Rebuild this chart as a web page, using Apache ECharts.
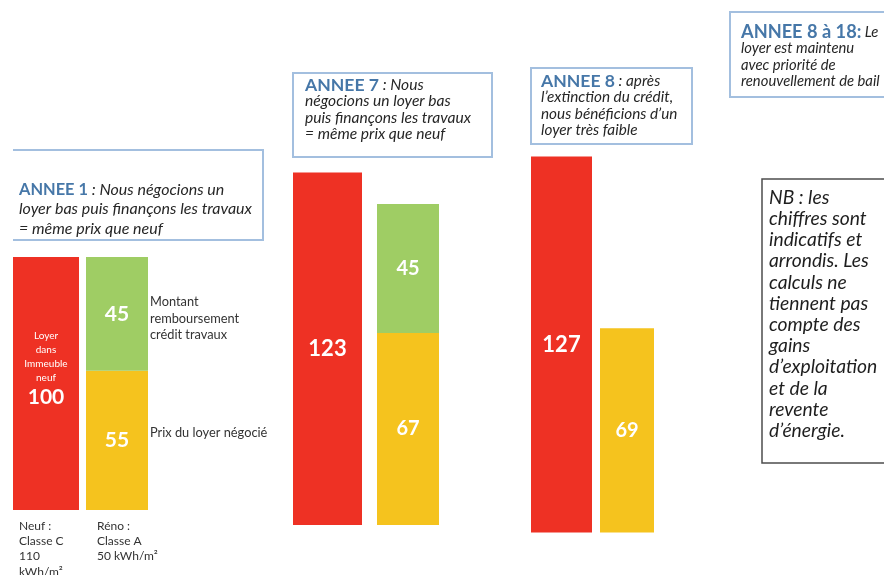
<!DOCTYPE html>
<html>
<head>
<meta charset="utf-8">
<script src="https://cdn.jsdelivr.net/npm/echarts@6/dist/echarts.min.js"></script>
<style>html,body{margin:0;padding:0;background:#fff}#c{width:884px;height:575px}</style>
</head>
<body>
<div id="c"></div>
<script>
// ---- data ----
const groups = ['ANNEE 1', 'ANNEE 7', 'ANNEE 8'];
const loyerNeuf = [100, 123, 127];          // red bars
const prixLoyerNegocie = [55, 67, 69];      // yellow bars
const creditTravaux = [45, 45, null];       // green bars (stacked on yellow)

// ---- layout (pixels) ----
const layout = [
  { red: [13, 66], reno: [86, 62], top: 257, base: 510 },
  { red: [293, 69], reno: [377, 62], top: 172.5, base: 525 },
  { red: [531, 61], reno: [600, 54], top: 156.5, base: 532.5 }
];
const RED = '#ee3124', YELLOW = '#f5c31e', GREEN = '#9fcd64';
const FONT = 'Lato';

const grid = [], xAxis = [], yAxis = [], series = [];
groups.forEach((g, i) => {
  const L = layout[i];
  [L.red, L.reno].forEach((b, k) => {
    const gi = i * 2 + k;
    grid.push({ left: b[0], width: b[1], top: L.top, height: L.base - L.top, containLabel: false });
    xAxis.push({ type: 'category', gridIndex: gi, data: [g], show: false });
    yAxis.push({ type: 'value', gridIndex: gi, min: 0, max: loyerNeuf[i], show: false, splitLine: { show: false } });
  });
  const numLabel = (size) => ({ show: true, position: 'inside', color: '#fff', fontFamily: FONT, fontWeight: 'bold', fontSize: size });
  const redLabel = i === 0 ? {
    show: true, position: 'inside', offset: [0, -14], fontFamily: FONT,
    formatter: p => '{s|Loyer\ndans\nImmeuble\nneuf}\n{b|' + p.value + '}',
    rich: {
      s: { color: '#fff', fontSize: 10, lineHeight: 14, fontFamily: FONT },
      b: { color: '#fff', fontSize: 21, fontWeight: 'bold', lineHeight: 26, fontFamily: FONT }
    }
  } : numLabel(22);
  series.push({ type: 'bar', name: 'Loyer neuf', xAxisIndex: i * 2, yAxisIndex: i * 2, data: [loyerNeuf[i]], barWidth: '100%', itemStyle: { color: RED }, label: redLabel });
  series.push({ type: 'bar', name: 'Prix du loyer négocié', xAxisIndex: i * 2 + 1, yAxisIndex: i * 2 + 1, stack: 's' + i, data: [prixLoyerNegocie[i]], barWidth: '100%', itemStyle: { color: YELLOW }, label: numLabel(i === 0 ? 21 : 20) });
  if (creditTravaux[i] != null) {
    series.push({ type: 'bar', name: 'Crédit travaux', xAxisIndex: i * 2 + 1, yAxisIndex: i * 2 + 1, stack: 's' + i, data: [creditTravaux[i]], barWidth: '100%', itemStyle: { color: GREEN }, label: numLabel(i === 0 ? 21 : 20) });
  }
});

const BLUE_BORDER = '#a3bfdf', TITLE = '#4677a8', TXT = '#262626';
function boxText(x, top, lh, titleSize, bodySize, title, lines) {
  const rich = {
    t: { fontFamily: FONT, fontWeight: 'bold', fontSize: titleSize, fill: TITLE, lineHeight: lh },
    i: { fontFamily: FONT, fontStyle: 'italic', fontSize: bodySize, fill: TXT, lineHeight: lh }
  };
  const text = '{t|' + title + '}{i|' + lines[0] + '}' + lines.slice(1).map(l => '\n{i|' + l + '}').join('');
  return { type: 'text', left: x, top: top, style: { text, rich, fontFamily: FONT, lineHeight: lh, textVerticalAlign: 'top' } };
}
function plain(x, y, lines, size, lh, color, extra) {
  return { type: 'text', left: x, top: y, style: Object.assign({ text: lines.join('\n'), fontFamily: FONT, fontSize: size, lineHeight: lh, fill: color || '#333' }, extra || {}) };
}

const graphic = [
  { type: 'polyline', shape: { points: [[13, 150], [263, 150], [263, 240], [13, 240]] }, style: { stroke: BLUE_BORDER, lineWidth: 2, fill: null } },
  { type: 'rect', shape: { x: 293, y: 73, width: 199, height: 84 }, style: { stroke: BLUE_BORDER, lineWidth: 2, fill: '#fff' } },
  { type: 'rect', shape: { x: 531, y: 68, width: 161, height: 76 }, style: { stroke: BLUE_BORDER, lineWidth: 2, fill: '#fff' } },
  { type: 'rect', shape: { x: 730, y: 12, width: 170, height: 85 }, style: { stroke: BLUE_BORDER, lineWidth: 2, fill: '#fff' } },
  { type: 'rect', shape: { x: 762, y: 179, width: 140, height: 284 }, style: { stroke: '#4d4d4d', lineWidth: 1.5, fill: '#fff' } },
  boxText(19, 180, 19.5, 16.4, 16, 'ANNEE 1', [' : Nous négocions un', 'loyer bas puis finançons les travaux', '= même prix que neuf']),
  boxText(305, 76, 16.3, 17.6, 15.6, 'ANNEE 7', [' : Nous', 'négocions un loyer bas', 'puis finançons les travaux', '= même prix que neuf']),
  boxText(541, 72, 16.3, 17.6, 15.3, 'ANNEE 8', [' : après', 'l’extinction du crédit,', 'nous bénéficions d’un', 'loyer très faible']),
  boxText(741, 23, 16.4, 18.2, 14.8, 'ANNEE 8 à 18:', [' Le', 'loyer est maintenu', 'avec priorité de', 'renouvellement de bail']),
  plain(769, 187, ['NB : les', 'chiffres sont', 'indicatifs et', 'arrondis. Les', 'calculs ne', 'tiennent pas', 'compte des', 'gains', 'd’exploitation', 'et de la', 'revente', 'd’énergie.'], 19.3, 21.2, '#1e1e1e', { fontStyle: 'italic' }),
  plain(150, 294, ['Montant', 'remboursement', 'crédit travaux'], 12.8, 16.5, '#333'),
  plain(150, 425, ['Prix du loyer négocié'], 12.8, 16.5, '#333'),
  plain(19, 518.5, ['Neuf :', 'Classe C', '110', 'kWh/m²'], 12, 15.2, '#333'),
  plain(97, 518.5, ['Réno :', 'Classe A', '50 kWh/m²'], 12, 15.2, '#333')
];

const chart = echarts.init(document.getElementById('c'), null, { renderer: 'canvas' });
chart.setOption({
  animation: false,
  backgroundColor: '#fff',
  grid, xAxis, yAxis, series, graphic
});
</script>
</body>
</html>
